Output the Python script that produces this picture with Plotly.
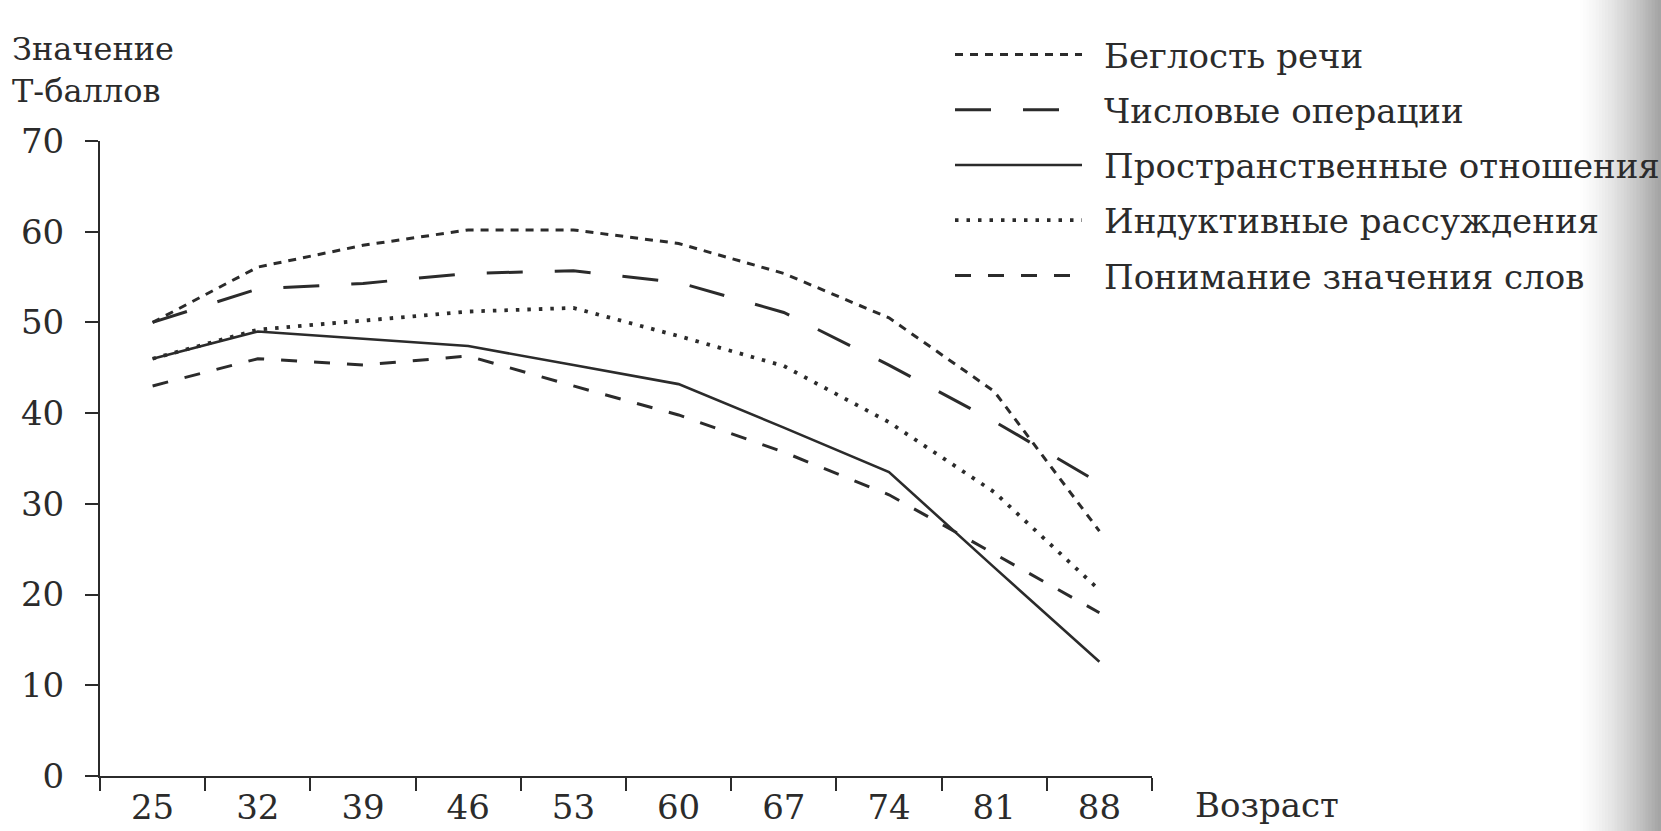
import plotly.graph_objects as go

ages = ["25", "32", "39", "46", "53", "60", "67", "74", "81", "88"]

fluency = [50.0, 56.1, 58.5, 60.2, 60.2, 58.7, 55.4, 50.5, 42.4, 27.0]
numbers = [50.0, 53.7, 54.3, 55.4, 55.7, 54.4, 51.1, 45.3, 39.1, 32.3]
spatial = [46.0, 49.0, 48.2, 47.4, 45.3, 43.2, 38.4, 33.5, 23.0, 12.6]
inductive = [46.0, 49.2, 50.2, 51.2, 51.6, 48.5, 45.2, 39.0, 31.3, 20.5]
verbal = [43.0, 46.0, 45.3, 46.3, 43.0, 39.8, 35.7, 31.0, 24.5, 18.0]

names = [
    "Беглость речи",
    "Числовые операции",
    "Пространственные отношения",
    "Индуктивные рассуждения",
    "Понимание значения слов",
]
series = [fluency, numbers, spatial, inductive, verbal]
dashes = ["8px,7px", "36px,32px", "solid", "3.5px,8px", "16px,17px"]
widths = [3, 3, 2.6, 3.8, 3]

W, H = 1661, 831
L, R, T, B = 100, 509, 141, 55
PW, PH = W - L - R, H - T - B
FONT = "DejaVu Serif"
INK = "#2b2b2b"


def px_x(px):
    return (px - L) / PW


def px_y(py):
    return (H - B - py) / PH


fig = go.Figure()
for i, (nm, ys) in enumerate(zip(names, series)):
    fig.add_trace(go.Scatter(
        x=ages, y=ys, mode="lines", name="\u2002" + nm, legendgroup=str(i),
        line=dict(color=INK, width=widths[i], dash=dashes[i]),
        hoverinfo="skip",
    ))

shapes = []
n = 26
x0 = 1580
step = (W - x0) / n
for k in range(n):
    t = (k + 1) / n
    g = int(255 - t ** 1.4 * 90)
    shapes.append(dict(
        type="rect", xref="paper", yref="paper",
        x0=px_x(x0 + k * step), x1=px_x(x0 + (k + 1) * step + 0.6),
        y0=px_y(H + 5), y1=px_y(-5),
        fillcolor=f"rgb({g},{g},{g})", line=dict(width=0), layer="above",
    ))

fig.update_layout(
    width=W, height=H,
    margin=dict(l=L, r=R, t=T, b=B, autoexpand=False),
    paper_bgcolor="white", plot_bgcolor="white",
    font=dict(family=FONT, color=INK, size=33),
    showlegend=True,
    legend=dict(
        x=px_x(950), y=px_y(26), xanchor="left", yanchor="top",
        bgcolor="rgba(0,0,0,0)", font=dict(size=34, family=FONT, color=INK),
        itemwidth=127, traceorder="grouped", tracegroupgap=8,
        itemclick=False, itemdoubleclick=False,
    ),
    xaxis=dict(
        type="category", range=[-0.5, 9.5], tickson="boundaries",
        ticks="outside", ticklen=13, tickwidth=2, tickcolor=INK,
        showline=True, linewidth=2, linecolor=INK, showgrid=False,
        tickfont=dict(size=34, family=FONT, color=INK), zeroline=False,
    ),
    yaxis=dict(
        range=[0, 70], tickvals=[0, 10, 20, 30, 40, 50, 60, 70],
        ticks="outside", ticklen=13, tickwidth=2, tickcolor=INK,
        showline=True, linewidth=2, linecolor=INK, showgrid=False,
        zeroline=False, tickfont=dict(size=34, family=FONT, color=INK),
        ticklabelstandoff=14,
    ),
    shapes=shapes,
    annotations=[
        dict(text="Значение<br>Т-баллов", xref="paper", yref="paper",
             x=px_x(10), y=px_y(28), xanchor="left", yanchor="top",
             align="left", showarrow=False,
             font=dict(size=32, family=FONT, color=INK)),
        dict(text="Возраст", xref="paper", yref="paper",
             x=px_x(1193), y=px_y(805), xanchor="left", yanchor="middle",
             showarrow=False, font=dict(size=34, family=FONT, color=INK)),
    ],
)

fig.write_html(
    "out.html",
    config={"displayModeBar": False},
    post_script="document.body.style.margin='0';document.body.style.overflow='hidden';",
)
